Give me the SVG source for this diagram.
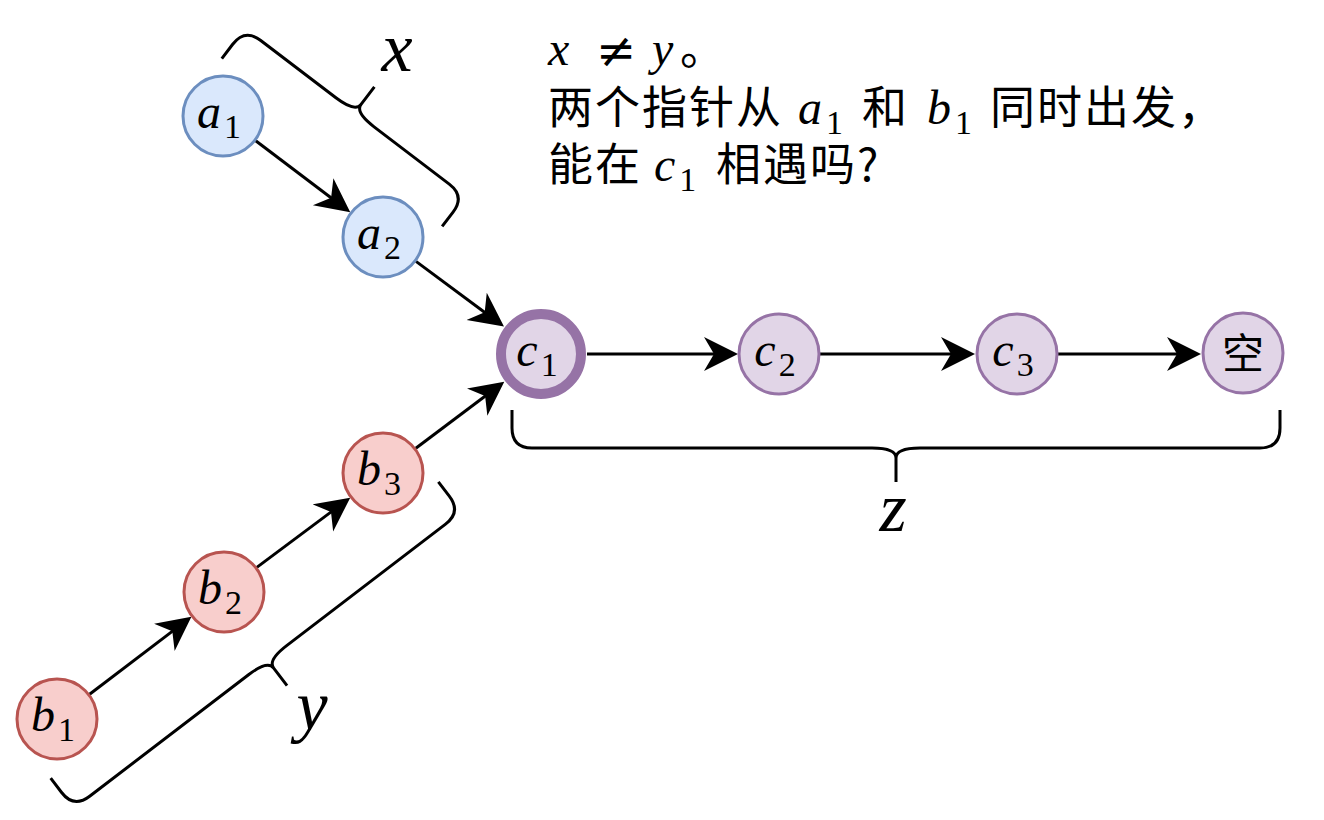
<svg xmlns="http://www.w3.org/2000/svg" width="1324" height="820" viewBox="0 0 1324 820">
<style>
.nb{fill:#dae8fc;stroke:#6c8ebf;stroke-width:3}
.nr{fill:#f8cecc;stroke:#b85450;stroke-width:3}
.np{fill:#e1d5e7;stroke:#9673a6;stroke-width:3}
.npt{fill:#e1d5e7;stroke:#9673a6;stroke-width:10}
.lbl{font-family:"Liberation Serif","DejaVu Serif",serif;font-size:48px;fill:#000}
.mi{font-family:"Liberation Serif","DejaVu Serif",serif;font-size:48px;font-style:italic;letter-spacing:0}
.sub{font-family:"Liberation Serif","DejaVu Serif",serif;font-size:34px;font-style:normal;letter-spacing:0}
.cjk{font-family:"Noto Sans CJK SC","Noto Sans",sans-serif;font-size:45px;letter-spacing:2px;fill:#000}
.big{font-family:"Liberation Serif","DejaVu Serif",serif;font-size:70px;font-style:italic;fill:#000}
.edge{stroke:#000;stroke-width:3;fill:none;marker-end:url(#arr)}
.brace{stroke:#000;stroke-width:3;fill:none;stroke-linejoin:round}
</style>
<defs>
<marker id="arr" markerUnits="userSpaceOnUse" markerWidth="36" markerHeight="36" refX="14" refY="17" orient="auto">
<path d="M0,0 L34,17 L0,34 L10,17 Z" fill="#000"/>
</marker>
</defs>

<g id="connectors">
<line class="edge" x1="255.7" y1="140.7" x2="334.3" y2="200.2"/>
<line class="edge" x1="416" y1="261.4" x2="487.9" y2="314.7"/>
<line class="edge" x1="89.6" y1="694.2" x2="175.5" y2="628.9"/>
<line class="edge" x1="256.8" y1="567.4" x2="334.2" y2="509.6"/>
<line class="edge" x1="415.8" y1="448.3" x2="488.3" y2="393.7"/>
<line class="edge" x1="587" y1="354" x2="718" y2="354"/>
<line class="edge" x1="820" y1="354" x2="955" y2="354"/>
<line class="edge" x1="1057" y1="354" x2="1181" y2="354"/>
</g>

<g id="braces">
<path id="brace-x" class="brace" transform="translate(355,112.3) rotate(-142.7)" d="M-138.5,-38 L-138.5,-20 Q-138.5,0 -118.5,0 L-24,0 Q0,0 0,10 L0,32 M0,10 Q0,0 24,0 L118.5,0 Q138.5,0 138.5,-20 L138.5,-38"/>
<path id="brace-y" class="brace" transform="translate(267.6,660.2) rotate(-37.4)" d="M-244,-38 L-244,-20 Q-244,0 -224,0 L-24,0 Q0,0 0,10 L0,32 M0,10 Q0,0 24,0 L224,0 Q244,0 244,-20 L244,-38"/>
<path id="brace-z" class="brace" transform="translate(896,448)" d="M-384,-38 L-384,-20 Q-384,0 -364,0 L-24,0 Q0,0 0,10 L0,34 M0,10 Q0,0 24,0 L364,0 Q384,0 384,-20 L384,-38"/>
<text class="big" x="397" y="71" text-anchor="middle">x</text>
<text class="big" x="312" y="729" text-anchor="middle">y</text>
<text class="big" x="893" y="531" text-anchor="middle">z</text>
</g>

<g id="node-a1"><circle class="nb" cx="223" cy="116" r="40"/>
<text class="lbl" x="219" y="128" text-anchor="middle"><tspan class="mi">a</tspan><tspan class="sub" dx="3" dy="10">1</tspan></text></g>
<g id="node-a2"><circle class="nb" cx="383" cy="237" r="40"/>
<text class="lbl" x="379" y="249" text-anchor="middle"><tspan class="mi">a</tspan><tspan class="sub" dx="3" dy="10">2</tspan></text></g>
<g id="node-b1"><circle class="nr" cx="57" cy="719" r="40"/>
<text class="lbl" x="53" y="731" text-anchor="middle"><tspan class="mi">b</tspan><tspan class="sub" dx="3" dy="10">1</tspan></text></g>
<g id="node-b2"><circle class="nr" cx="224" cy="592" r="40"/>
<text class="lbl" x="220" y="604" text-anchor="middle"><tspan class="mi">b</tspan><tspan class="sub" dx="3" dy="10">2</tspan></text></g>
<g id="node-b3"><circle class="nr" cx="383" cy="473" r="40"/>
<text class="lbl" x="379" y="485" text-anchor="middle"><tspan class="mi">b</tspan><tspan class="sub" dx="3" dy="10">3</tspan></text></g>
<g id="node-c1"><circle class="npt" cx="541" cy="354" r="40"/>
<text class="lbl" x="537" y="366" text-anchor="middle"><tspan class="mi">c</tspan><tspan class="sub" dx="3" dy="10">1</tspan></text></g>
<g id="node-c2"><circle class="np" cx="779" cy="354" r="40"/>
<text class="lbl" x="775" y="366" text-anchor="middle"><tspan class="mi">c</tspan><tspan class="sub" dx="3" dy="10">2</tspan></text></g>
<g id="node-c3"><circle class="np" cx="1017" cy="354" r="40"/>
<text class="lbl" x="1013" y="366" text-anchor="middle"><tspan class="mi">c</tspan><tspan class="sub" dx="3" dy="10">3</tspan></text></g>
<g id="node-null"><circle class="np" cx="1243" cy="353" r="40"/>
<text class="cjk" x="1243" y="369" text-anchor="middle" style="font-size:42px;letter-spacing:0">空</text></g>

<g id="caption">
<text class="mi" x="548" y="65">x</text>
<text x="596" y="67" style="font-family:'DejaVu Serif',serif;font-size:48px">≠</text>
<text class="mi" x="652" y="65">y</text>
<text class="cjk" x="680" y="65">。</text>
<text class="cjk" x="548" y="124">两个指针从</text>
<text x="798" y="124"><tspan class="mi">a</tspan><tspan class="sub" dx="4" dy="10">1</tspan></text>
<text class="cjk" x="862" y="124">和</text>
<text x="927" y="124"><tspan class="mi">b</tspan><tspan class="sub" dx="4" dy="10">1</tspan></text>
<text class="cjk" x="990" y="124">同时出发，</text>
<text class="cjk" x="548" y="181">能在</text>
<text x="654" y="181"><tspan class="mi">c</tspan><tspan class="sub" dx="4" dy="10">1</tspan></text>
<text class="cjk" x="716" y="181">相遇吗?</text>
</g>
</svg>
